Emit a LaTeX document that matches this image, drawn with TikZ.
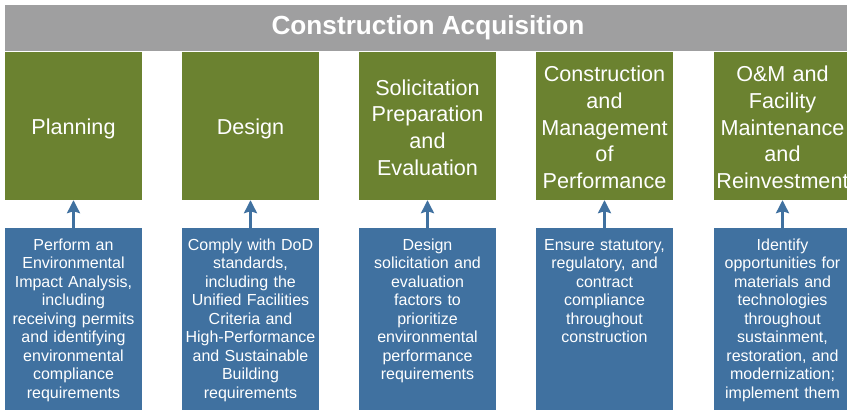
\documentclass[tikz,border=0pt]{standalone}
\usepackage{fontspec}
\setmainfont{Liberation Sans}
\usetikzlibrary{arrows.meta}
\definecolor{bargray}{RGB}{159,159,160}
\definecolor{phasegreen}{RGB}{107,130,48}
\definecolor{taskblue}{RGB}{64,113,160}
\tikzset{
  titlebar/.style={fill=bargray, minimum width=846pt, minimum height=46pt, inner sep=0pt,
    text=white, font=\bfseries\fontsize{26.2}{30}\selectfont},
  phasebox/.style={fill=phasegreen, minimum width=137pt, minimum height=148pt, inner sep=0pt,
    text width=137pt, align=center, text=white, font=\fontsize{21.6}{26.7}\selectfont},
  taskbox/.style={fill=taskblue, minimum width=137pt, minimum height=182pt, inner sep=0pt},
  tasktext/.style={anchor=north, inner sep=0pt, text width=137pt, align=center, text=white,
    font=\fontsize{16}{18.5}\selectfont},
  uparrow/.style={draw=taskblue, line width=2.6pt, -{Stealth[length=13pt,width=13pt,inset=2pt]}}
}
\begin{document}
\begin{tikzpicture}[x=1pt,y=1pt]
\clip (0,0) rectangle (847,-410);
\useasboundingbox (0,0) rectangle (847,-410);
\node[titlebar] (title) at (428,-28) {Construction Acquisition};
% phase boxes
\node[phasebox] (g1) at (73.5,-126) {};
\node[phasebox] (g2) at (250.5,-126) {};
\node[phasebox] (g3) at (427.5,-126) {};
\node[phasebox] (g4) at (604.5,-126) {};
\node[phasebox] (g5) at (782.5,-126) {};
\node[phasebox, fill=none] (p1) at (73.5,-128.5) {Planning};
\node[phasebox, fill=none] (p2) at (250.5,-128.5) {Design};
\node[phasebox, fill=none] (p3) at (427.5,-127.5) {Solicitation\\Preparation\\and\\Evaluation};
\node[phasebox, fill=none] (p4) at (604.5,-127.5) {Construction\\and\\Management\\of\\Performance};
\node[phasebox, fill=none] (p5) at (782.5,-127.5) {O\&M and\\Facility\\Maintenance\\and\\Reinvestment};
% task boxes
\node[taskbox] (b1) at (73.5,-319) {};
\node[taskbox] (b2) at (250.5,-319) {};
\node[taskbox] (b3) at (427.5,-319) {};
\node[taskbox] (b4) at (604.5,-319) {};
\node[taskbox] (b5) at (782.5,-319) {};
\node[tasktext] (t1) at (73.5,-237) {\strut Perform an\\Environmental\\Impact Analysis,\\including\\receiving permits\\and identifying\\environmental\\compliance\\requirements};
\node[tasktext] (t2) at (250.5,-237) {\strut Comply with DoD\\standards,\\including the\\Unified Facilities\\Criteria and\\High-Performance\\and Sustainable\\Building\\requirements};
\node[tasktext] (t3) at (427.5,-237) {\strut Design\\solicitation and\\evaluation\\factors to\\prioritize\\environmental\\performance\\requirements};
\node[tasktext] (t4) at (604.5,-237) {\strut Ensure statutory,\\regulatory, and\\contract\\compliance\\throughout\\construction};
\node[tasktext] (t5) at (782.5,-237) {\strut Identify\\opportunities for\\materials and\\technologies\\throughout\\sustainment,\\restoration, and\\modernization;\\implement them};
% arrows
\draw[uparrow] (b1.north) -- (g1.south);
\draw[uparrow] (b2.north) -- (g2.south);
\draw[uparrow] (b3.north) -- (g3.south);
\draw[uparrow] (b4.north) -- (g4.south);
\draw[uparrow] (b5.north) -- (g5.south);
\end{tikzpicture}
\end{document}
